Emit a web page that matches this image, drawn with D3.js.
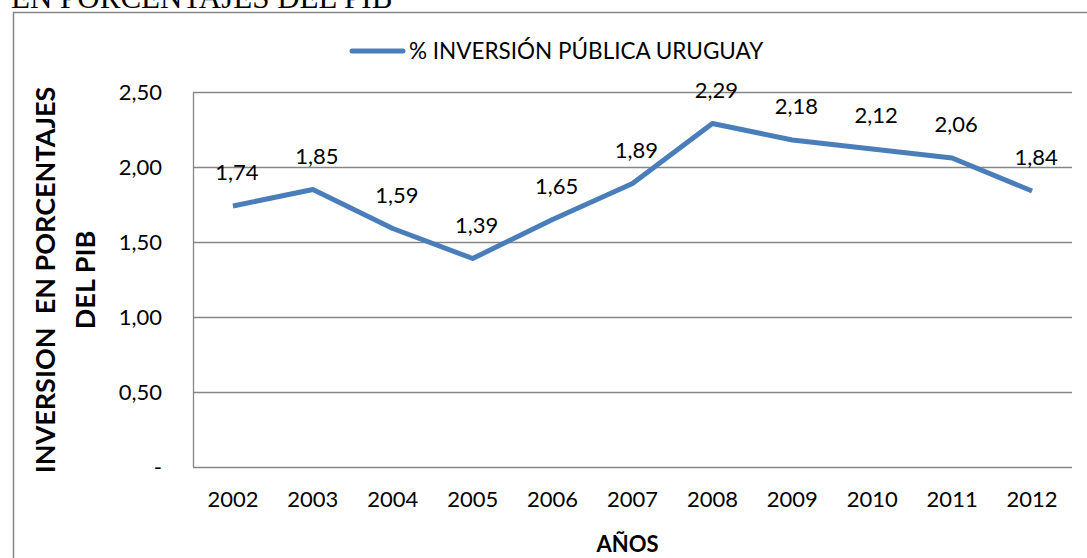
<!DOCTYPE html>
<html>
<head>
<meta charset="utf-8">
<script src="https://cdn.jsdelivr.net/npm/d3@7"></script>
<style>
  body { margin: 0; background: #fff; }
  svg { display: block; }
  text { font-family: Lato, "Open Sans", sans-serif; fill: #000; }
</style>
</head>
<body>
<div id="chart"></div>
<script>
// chart values
var years = ["2002", "2003", "2004", "2005", "2006", "2007", "2008", "2009", "2010", "2011", "2012"];
var inversion = [1.74, 1.85, 1.59, 1.39, 1.65, 1.89, 2.29, 2.18, 2.12, 2.06, 1.84];
var yTicks = [0, 0.5, 1, 1.5, 2, 2.5];
var seriesName = "% INVERSIÓN PÚBLICA URUGUAY";

var width = 1087, height = 558;
var margin = { top: 92, right: 15, bottom: 91, left: 193 };

var svg = d3.select("#chart").append("svg")
    .attr("width", width)
    .attr("height", height);

// clipped title from the document above the chart
svg.append("text")
    .attr("x", 11)
    .attr("y", 8)
    .style("font-family", "'Liberation Serif', 'Times New Roman', serif")
    .style("font-size", "31px")
    .text("EN PORCENTAJES DEL PIB");

// chart frame
svg.append("rect")
    .attr("x", 13.5)
    .attr("y", 12.5)
    .attr("width", 1090)
    .attr("height", 560)
    .attr("fill", "none")
    .attr("stroke", "#868686")
    .attr("stroke-width", 1.5);

var x = d3.scaleBand()
    .domain(years)
    .range([margin.left, width - margin.right]);

var y = d3.scaleLinear()
    .domain([0, 2.5])
    .range([height - margin.bottom, margin.top]);

var fmt = function (v) { return v === 0 ? "-" : d3.format(".2f")(v).replace(".", ","); };

// gridlines
svg.append("g")
    .selectAll("line")
    .data(yTicks)
    .enter().append("line")
    .attr("x1", margin.left)
    .attr("x2", width - margin.right)
    .attr("y1", d => Math.round(y(d)) + 0.5)
    .attr("y2", d => Math.round(y(d)) + 0.5)
    .attr("stroke", "#868686")
    .attr("stroke-width", 1.3);

// y axis line
svg.append("line")
    .attr("x1", margin.left + 0.5)
    .attr("x2", margin.left + 0.5)
    .attr("y1", y(2.5))
    .attr("y2", y(0))
    .attr("stroke", "#868686")
    .attr("stroke-width", 1.3);

// y tick labels
svg.append("g")
    .selectAll("text")
    .data(yTicks)
    .enter().append("text")
    .attr("x", 162)
    .attr("y", d => y(d))
    .attr("dy", "0.35em")
    .attr("text-anchor", "end")
    .style("font-size", "22px")
    .text(fmt);

// x tick labels
svg.append("g")
    .selectAll("text")
    .data(years)
    .enter().append("text")
    .attr("x", d => x(d) + x.bandwidth() / 2)
    .attr("y", 507)
    .attr("text-anchor", "middle")
    .style("font-size", "22px")
    .text(d => d);

// axis titles
svg.append("text")
    .attr("x", x.range()[0] + (x.range()[1] - x.range()[0]) / 2 - 5)
    .attr("y", 552)
    .attr("text-anchor", "middle")
    .style("font-size", "22px")
    .style("font-weight", "bold")
    .text("AÑOS");

var yTitle = svg.append("text")
    .attr("transform", "translate(55," + 280 + ") rotate(-90)")
    .attr("text-anchor", "middle")
    .attr("xml:space", "preserve")
    .style("white-space", "pre")
    .style("font-size", "27px")
    .style("font-weight", "bold");
yTitle.append("tspan").attr("x", 0).attr("y", 0).text("INVERSION  EN PORCENTAJES");
yTitle.append("tspan").attr("x", 0).attr("y", 40).text("DEL PIB");

// series line
var line = d3.line()
    .x((d, i) => x(years[i]) + x.bandwidth() / 2)
    .y(d => y(d));

svg.append("path")
    .datum(inversion)
    .attr("d", line)
    .attr("fill", "none")
    .attr("stroke", "#4a7ebb")
    .attr("stroke-width", 5)
    .attr("stroke-linejoin", "round");

// data labels
svg.append("g")
    .selectAll("text")
    .data(inversion)
    .enter().append("text")
    .attr("x", (d, i) => x(years[i]) + x.bandwidth() / 2 + 4)
    .attr("y", d => y(d) - 26)
    .attr("text-anchor", "middle")
    .style("font-size", "22px")
    .text(fmt);

// legend
svg.append("line")
    .attr("x1", 352)
    .attr("x2", 403)
    .attr("y1", 51)
    .attr("y2", 51)
    .attr("stroke", "#4a7ebb")
    .attr("stroke-width", 5)
    .attr("stroke-linecap", "round");

svg.append("text")
    .attr("x", 409)
    .attr("y", 51)
    .attr("dy", "0.35em")
    .style("font-size", "22.5px")
    .text(seriesName);
</script>
</body>
</html>
